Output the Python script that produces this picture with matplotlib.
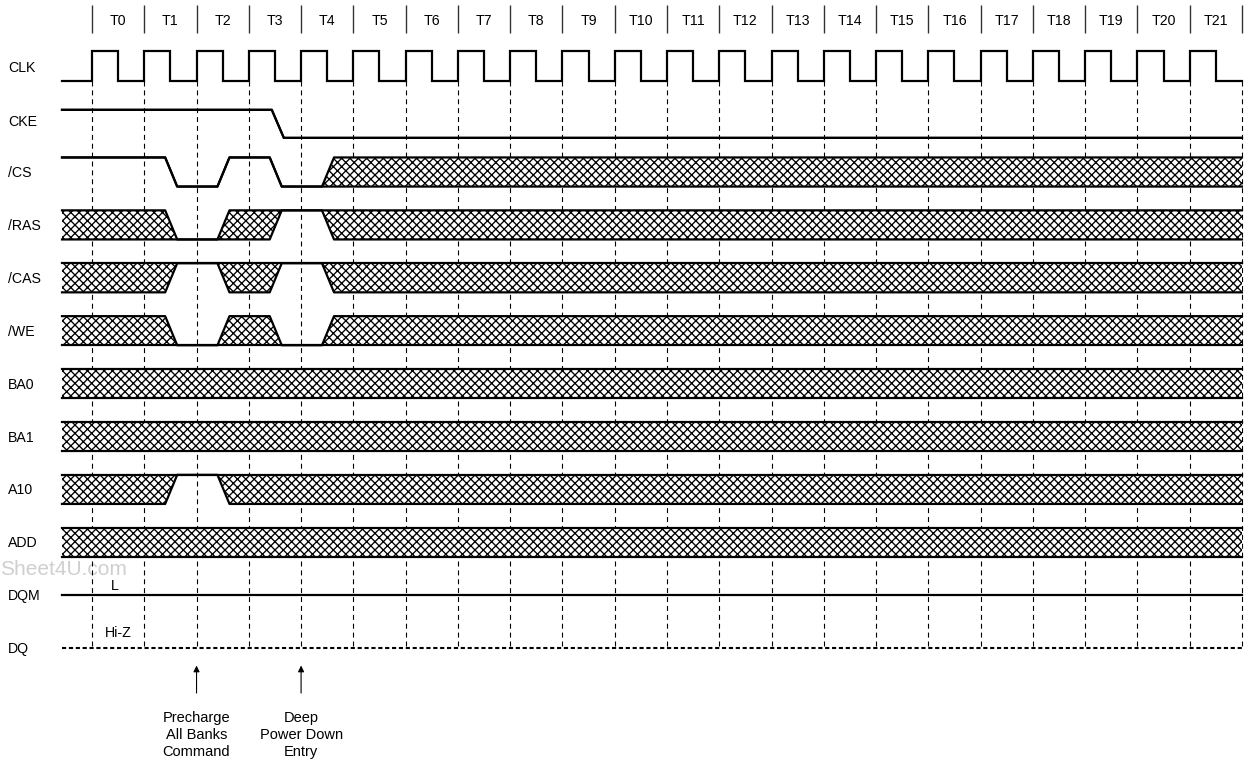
import matplotlib.pyplot as plt
import numpy as np

plt.rcParams['font.family'] = ['Liberation Sans', 'DejaVu Sans']
plt.rcParams['hatch.linewidth'] = 0.95

# signal names, top to bottom
signals = ["CLK", "CKE", "/CS", "/RAS", "/CAS", "/WE", "BA0", "BA1", "A10", "ADD", "DQM", "DQ"]
cycle_labels = [f"T{i}" for i in range(22)]
n_cycles = 22

# time is in clock cycles, rising edge of T0 at 0
t_start, t_end = -0.574, 22.0
t_ramp = 0.23

# (time where the change starts, new level); H high, L low, X don't care
waves = {
    "CKE":  [(t_start, "H"), (3.44, "L")],
    "/CS":  [(t_start, "H"), (1.4, "L"), (2.4, "H"), (3.4, "L"), (4.4, "X")],
    "/RAS": [(t_start, "X"), (1.4, "L"), (2.4, "X"), (3.4, "H"), (4.4, "X")],
    "/CAS": [(t_start, "X"), (1.4, "H"), (2.4, "X"), (3.4, "H"), (4.4, "X")],
    "/WE":  [(t_start, "X"), (1.4, "L"), (2.4, "X"), (3.4, "L"), (4.4, "X")],
    "BA0":  [(t_start, "X")],
    "BA1":  [(t_start, "X")],
    "A10":  [(t_start, "X"), (1.4, "H"), (2.4, "X")],
    "ADD":  [(t_start, "X")],
}

# row centres (rows are 52.9 px apart)
row_y = [0.0, 1.09, 2, 3, 4, 5, 6, 7, 8, 9, 10, 11]
label_y = [0.03, 1.05, 2.02, 3.02, 4.02, 5.02, 6.02, 7.02, 8.02, 9.02, 10.02, 11.02]
half = 0.275

markers = [(2, "Precharge\nAll Banks\nCommand"), (4, "Deep\nPower Down\nEntry")]

P = 52.27  # px per cycle
fig = plt.figure(figsize=(12.46, 7.62), dpi=100)
ax = fig.add_axes([0, 0, 1, 1])
ax.set_xlim(-92 / P, (1246 - 92) / P)
ax.set_ylim((762 - 66.2) / 52.9, -66.2 / 52.9)
ax.axis('off')

lw = 1.6


def level_edges(level, c, h):
    hi, lo = c - h, c + h
    return {"H": (hi, hi), "L": (lo, lo), "X": (hi, lo)}[level]


for name, c, ly in zip(signals, row_y, label_y):
    h = 0.265 if name == "CKE" else half
    ax.text(-1.607, ly, name, ha='left', va='center', fontsize=10.2)

    if name == "CLK":
        hi, lo = c - 0.29, c + 0.28
        ts, ys = [t_start], [lo]
        for k in range(n_cycles):
            ts += [k, k, k + 0.5, k + 0.5]
            ys += [lo, hi, hi, lo]
        ts.append(t_end)
        ys.append(lo)
        ax.plot(ts, ys, color='black', lw=lw, zorder=3, solid_joinstyle='miter')
        continue
    if name == "DQM":
        ax.plot([t_start, t_end], [c, c], color='black', lw=lw, zorder=3)
        continue
    if name == "DQ":
        ax.plot([t_start, t_end], [c, c], color='black', lw=1.5,
                linestyle=(0, (2, 1.3)), zorder=3)
        continue

    segs = waves[name]
    ts = [segs[0][0]]
    top, bot = [level_edges(segs[0][1], c, h)[0]], [level_edges(segs[0][1], c, h)[1]]
    prev = segs[0][1]
    for t, lev in segs[1:]:
        a = level_edges(prev, c, h)
        b = level_edges(lev, c, h)
        ts += [t, t + t_ramp]
        top += [a[0], b[0]]
        bot += [a[1], b[1]]
        prev = lev
    e = level_edges(prev, c, h)
    ts.append(t_end)
    top.append(e[0])
    bot.append(e[1])
    ax.fill_between(ts, top, bot, facecolor='white', edgecolor='black',
                    hatch='xxxx', linewidth=0, zorder=2)
    ax.plot(ts, top, color='black', lw=lw, zorder=3)
    ax.plot(ts, bot, color='black', lw=lw, zorder=3)

# clock edge guides
edges = np.arange(n_cycles + 1)
ax.vlines(edges, 0.28, 11, colors='black', lw=0.8, linestyles=(0, (4.5, 3.5)), zorder=1)
ax.vlines(edges, -1.157, -0.628, colors='#333333', lw=1.0, zorder=1)
for k, lab in enumerate(cycle_labels):
    ax.text(k + 0.5, -0.86, lab, ha='center', va='center', fontsize=10.2)

ax.text(0.44, 9.83, "L", ha='center', va='center', fontsize=10.2)
ax.text(0.5, 10.72, "Hi-Z", ha='center', va='center', fontsize=10.2)
ax.text(-1.758, 9.52, "Sheet4U.com", ha='left', va='center', fontsize=15,
        color='#cfcfcf', zorder=0)

for t, txt in markers:
    ax.annotate("", xy=(t, 11.33), xytext=(t, 11.85),
                arrowprops=dict(arrowstyle='-|>', color='black', lw=0.8,
                                mutation_scale=9, shrinkA=0, shrinkB=0))
    ax.text(t, 12.65, txt, ha='center', va='center', fontsize=10.5, linespacing=1.27)

fig.savefig('out.png', dpi=100)
